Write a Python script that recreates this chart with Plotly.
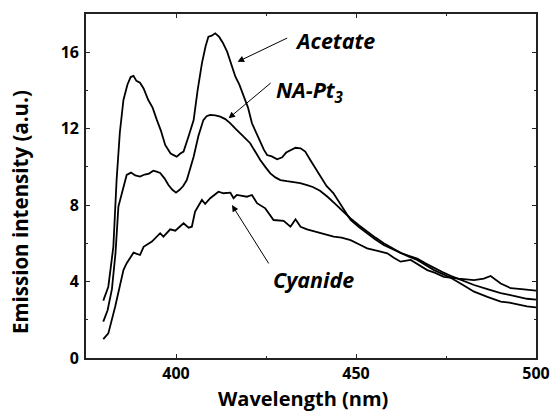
import plotly.graph_objects as go

# Emission spectra (wavelength in nm, intensity in a.u.)
acetate_x = [379.8, 381.2, 382.6, 383.5, 384.4, 385.4, 386.5, 387.4, 388.2, 389.0, 390.0, 391.0,
             392.3, 393.5, 394.7, 395.8, 397.0, 398.5, 399.5, 400.2, 401.2, 402.1, 403.5, 404.9,
             406.0, 407.2, 408.2, 409.0, 409.8, 410.9, 412.0, 413.0, 414.2, 415.4, 416.5, 417.6,
             418.8, 420.0, 421.1, 422.2, 423.4, 424.4, 425.3, 426.6, 428.1, 429.5, 430.6, 431.8,
             433.2, 434.6, 435.9, 437.3, 438.8, 440.3, 441.8, 443.7, 446.0, 448.5, 450.8, 453.1,
             455.4, 457.7, 460.0, 462.4, 464.7, 467.0, 469.3, 471.7, 474.0, 476.3, 479.5, 482.8,
             486.5, 490.2, 492.6, 495.0, 497.5, 500.0]
acetate_y = [3.0, 3.73, 5.82, 9.31, 11.8, 13.5, 14.3, 14.7, 14.76, 14.5, 14.4, 14.1,
             13.5, 13.1, 12.45, 11.9, 11.15, 10.7, 10.6, 10.53, 10.7, 10.8, 11.6, 12.45,
             14.0, 15.42, 16.3, 16.81, 16.85, 16.99, 16.8, 16.5, 16.03, 15.4, 14.72, 14.3,
             13.67, 13.1, 12.28, 11.8, 11.24, 10.9, 10.62, 10.55, 10.4, 10.5, 10.75, 10.88,
             11.0, 10.97, 10.8, 10.36, 9.9, 9.4, 9.0, 8.63, 7.95, 7.22, 6.85, 6.52,
             6.2, 5.91, 5.7, 5.48, 5.3, 5.13, 4.85, 4.6, 4.4, 4.2, 3.85, 3.47,
             3.2, 2.95, 2.9, 2.8, 2.7, 2.65]

napt3_x = [379.8, 381.0, 382.2, 383.2, 384.0, 384.5, 385.4, 386.3, 387.5, 388.7, 390.0, 391.3,
           392.5, 393.7, 394.6, 395.6, 396.8, 397.9, 399.0, 400.0, 401.0, 402.0, 403.0, 404.0,
           404.9, 406.2, 407.6, 408.5, 409.5, 410.9, 412.3, 413.7, 415.1, 416.5, 417.9, 419.2,
           420.6, 422.0, 423.4, 424.8, 426.2, 427.6, 429.0, 430.8, 432.7, 434.5, 436.4, 438.0,
           440.0, 442.0, 444.0, 446.2, 448.5, 450.8, 453.1, 455.4, 457.7, 460.0, 462.4, 464.7,
           467.0, 469.3, 471.7, 474.0, 476.3, 479.5, 482.8, 486.5, 490.2, 492.6, 495.0, 497.5,
           500.0]
napt3_y = [1.9, 2.5, 3.6, 5.5, 7.92, 8.27, 9.0, 9.58, 9.7, 9.55, 9.49, 9.6,
           9.65, 9.8, 9.75, 9.68, 9.4, 9.05, 8.8, 8.65, 8.8, 9.0, 9.31, 9.9,
           10.53, 11.6, 12.45, 12.65, 12.72, 12.7, 12.63, 12.5, 12.28, 12.0, 11.76, 11.5,
           11.24, 10.8, 10.36, 10.0, 9.66, 9.45, 9.31, 9.25, 9.2, 9.15, 9.05, 8.95,
           8.75, 8.45, 8.1, 7.7, 7.3, 6.95, 6.6, 6.3, 6.0, 5.75, 5.5, 5.35,
           5.2, 4.95, 4.7, 4.5, 4.3, 4.05, 3.82, 3.6, 3.39, 3.3, 3.2, 3.1,
           3.05]

cyanide_x = [379.8, 381.2, 383.1, 385.4, 386.3, 388.2, 390.0, 391.0, 393.3, 395.6, 396.5, 398.4,
             399.8, 402.1, 403.5, 404.4, 405.3, 407.2, 408.1, 409.5, 411.8, 413.2, 415.1, 416.0,
             416.9, 419.7, 421.1, 422.5, 424.8, 427.1, 429.9, 431.8, 433.2, 434.6, 436.4, 440.0,
             443.8, 446.0, 448.5, 450.8, 453.1, 456.0, 458.7, 460.5, 462.4, 465.2, 467.5, 469.8,
             472.0, 474.4, 478.5, 482.8, 485.5, 487.4, 490.2, 493.0, 496.0, 500.0]
cyanide_y = [0.99, 1.29, 2.68, 4.6, 4.96, 5.51, 5.39, 5.82, 6.09, 6.53, 6.35, 6.73,
             6.66, 7.05, 6.82, 6.87, 7.66, 8.27, 8.06, 8.36, 8.7, 8.62, 8.65, 8.36,
             8.53, 8.44, 8.53, 8.1, 7.83, 7.22, 7.18, 6.87, 7.26, 6.87, 6.73, 6.55,
             6.35, 6.3, 6.17, 5.95, 5.74, 5.6, 5.48, 5.25, 5.04, 5.13, 4.85, 4.6,
             4.45, 4.25, 4.15, 4.08, 4.15, 4.29, 3.9, 3.65, 3.6, 3.52]

# Label text, label position, arrow tail and arrow head (data units)
labels = ["<b><i>Acetate</i></b>", "<b><i>NA-Pt<sub>3</sub></i></b>", "<b><i>Cyanide</i></b>"]
label_x = [444.3, 437.3, 438.2]
label_y = [16.6, 13.95, 4.13]
arrow_tail_x = [431.3, 426.7, 426.0]
arrow_tail_y = [16.78, 14.45, 4.87]
arrow_head_x = [417.1, 414.6, 415.55]
arrow_head_y = [15.5, 12.54, 8.0]

FONT = "Open Sans"

fig = go.Figure()
for xs, ys in [(acetate_x, acetate_y), (napt3_x, napt3_y), (cyanide_x, cyanide_y)]:
    fig.add_trace(go.Scatter(x=xs, y=ys, mode="lines",
                             line=dict(color="black", width=1.8),
                             showlegend=False, hoverinfo="skip"))

for i in range(3):
    fig.add_annotation(x=arrow_head_x[i], y=arrow_head_y[i], xref="x", yref="y",
                       ax=arrow_tail_x[i], ay=arrow_tail_y[i], axref="x", ayref="y",
                       text="", showarrow=True, arrowhead=2, arrowsize=1.3,
                       arrowwidth=1, arrowcolor="black")
    fig.add_annotation(x=label_x[i], y=label_y[i], xref="x", yref="y",
                       text=labels[i], showarrow=False,
                       font=dict(family=FONT, size=21.5, color="black"),
                       xanchor="center", yanchor="middle")

# Axis titles placed as free text
fig.add_annotation(x=-0.146, y=0.425, xref="paper", yref="paper",
                   text="<b>Emission intensity (a.u.)</b>", textangle=-90,
                   showarrow=False, xanchor="center", yanchor="middle",
                   font=dict(family=FONT, size=20.5, color="black"))
fig.add_annotation(x=0.483, y=-0.117, xref="paper", yref="paper",
                   text="<b>Wavelength (nm)</b>",
                   showarrow=False, xanchor="center", yanchor="middle",
                   font=dict(family=FONT, size=20, color="black"))

axis_common = dict(showline=True, linecolor="#222", linewidth=1.6, mirror="ticks",
                   ticks="inside", ticklen=4, tickwidth=1.2, tickcolor="#222",
                   showgrid=False, zeroline=False, automargin=False,
                   tickfont=dict(family=FONT, size=16, color="black", weight="bold"))

fig.update_xaxes(range=[375, 500], tick0=400, dtick=50,
                 minor=dict(dtick=25, tick0=375, ticks="inside", ticklen=2, tickcolor="#222"),
                 **axis_common)
fig.update_yaxes(range=[0, 18], tick0=0, dtick=4,
                 minor=dict(dtick=2, ticks="inside", ticklen=2, tickcolor="#222"),
                 ticklabelstandoff=2,
                 **axis_common)

fig.update_layout(width=553, height=415,
                  margin=dict(l=86, r=17, t=14, b=57),
                  paper_bgcolor="white", plot_bgcolor="white")

fig.write_html("out.html")
